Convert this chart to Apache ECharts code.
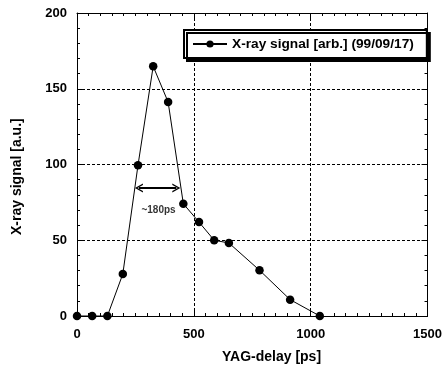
<!DOCTYPE html>
<html><head><meta charset="utf-8">
<script src="https://cdn.jsdelivr.net/npm/echarts@6/dist/echarts.min.js"></script>
<style>html,body{margin:0;padding:0;background:#fff}#c{width:445px;height:371px}</style>
</head><body><div id="c"></div>
<script>
const delays = [0, 65, 130, 196, 261, 326, 390, 455, 522, 587, 650, 781, 912, 1039];
const signal = [0, 0, 0, 27.7, 99.5, 164.8, 141.2, 74.1, 62, 50, 48.2, 30.2, 10.8, 0];
const arrowX = [265, 425];
const arrowY = 84.5;
const noteLabel = ['~180ps'];
const notePos = [349, 69.5];
const xTicks = [0, 500, 1000, 1500];
const yTicks = [0, 50, 100, 150, 200];
const xTitle = 'YAG-delay [ps]';
const yTitle = 'X-ray signal [a.u.]';
const seriesName = 'X-ray signal [arb.] (99/09/17)';

const FONT = 'Liberation Sans, Arial, sans-serif';
const chart = echarts.init(document.getElementById('c'));
const X0 = xTicks[0], X1 = xTicks[xTicks.length-1];
const Y0 = yTicks[0], Y1 = yTicks[yTicks.length-1];
function majorAxis(pos, isX, showLabels) {
  return {
    type: 'value', min: isX ? X0 : Y0, max: isX ? X1 : Y1, interval: isX ? 500 : 50,
    position: pos,
    axisLine: {show: true, onZero: false, lineStyle: {color: '#000', width: 1}},
    axisTick: {show: true, inside: true, length: 6, lineStyle: {color: '#000', width: 1}},
    axisLabel: showLabels ? {fontFamily: FONT, fontWeight: 'bold', fontSize: 13, color: '#000',
      margin: isX ? 12 : 10, formatter: v => String(v)} : {show: false},
    splitLine: showLabels ? {show: true, lineStyle: {color: '#000', type: [3, 2], width: 1}} : {show: false}
  };
}
function minorAxis(pos, isX) {
  return {
    type: 'value', min: isX ? X0 : Y0, max: isX ? X1 : Y1, interval: isX ? 50 : 10,
    position: pos, offset: 0,
    axisLine: {show: false, onZero: false},
    axisTick: {show: true, inside: true, length: 3, lineStyle: {color: '#000', width: 1}},
    axisLabel: {show: false}, splitLine: {show: false}
  };
}
const arrowHead = 'path://M5,0 L10,10 L8.4,10 L5,3.2 L1.6,10 L0,10 Z';
chart.setOption({
  animation: false,
  backgroundColor: '#fff',
  grid: {left: 77, right: 12, top: 13, bottom: 55, containLabel: false},
  legend: {
    left: 184, top: 30, orient: 'horizontal',
    data: [seriesName],
    backgroundColor: '#fff', borderColor: '#000', borderWidth: 2, borderRadius: 0,
    padding: [7, 13, 7, 8],
    shadowColor: '#000', shadowOffsetX: 3, shadowOffsetY: 3, shadowBlur: 0,
    itemWidth: 34, itemHeight: 9,
    textStyle: {fontFamily: FONT, fontWeight: 'bold', fontSize: 13.7, color: '#000'}
  },
  xAxis: [majorAxis('bottom', true, true), majorAxis('top', true, false),
          minorAxis('bottom', true), minorAxis('top', true)],
  yAxis: [majorAxis('left', false, true), majorAxis('right', false, false),
          minorAxis('left', false), minorAxis('right', false)],
  graphic: [
    {type: 'text', left: 222, top: 350, style: {text: xTitle, font: 'bold 14px ' + FONT, fill: '#000'}},
    {type: 'text', x: 10, y: 235, rotation: Math.PI / 2,
      style: {text: yTitle, font: 'bold 14px ' + FONT, fill: '#000'}}
  ],
  series: [
    {
      name: seriesName, type: 'line',
      data: delays.map((d, i) => [d, signal[i]]),
      symbol: 'circle', symbolSize: 8.5,
      lineStyle: {color: '#000', width: 1}, itemStyle: {color: '#000'},
      clip: false, z: 5,
      markLine: {
        silent: true, symbol: [arrowHead, arrowHead], symbolSize: [9, 8],
        lineStyle: {color: '#000', width: 2, type: 'solid'}, label: {show: false},
        data: [[{coord: [arrowX[0], arrowY]}, {coord: [arrowX[1], arrowY]}]]
      }
    },
    {
      name: 'note', type: 'scatter', symbolSize: 0,
      data: [{value: notePos, name: noteLabel[0]}],
      label: {show: true, position: 'inside', formatter: '{b}',
        fontFamily: FONT, fontWeight: 'bold', fontSize: 10, color: '#000'},
      silent: true
    }
  ]
});
</script></body></html>
